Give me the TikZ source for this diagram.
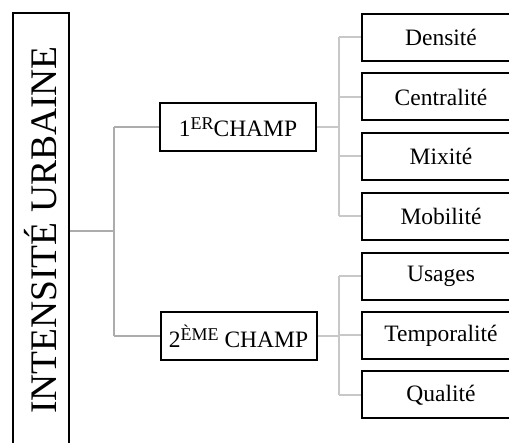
\documentclass[tikz,border=0pt]{standalone}
\usepackage{fontspec}
\setmainfont{Liberation Serif}
\definecolor{gdark}{RGB}{172,172,172}
\definecolor{glight}{RGB}{200,200,200}
\tikzset{
  x=1pt, y=-1pt,
  boxline/.style={draw=black, line width=2pt, inner sep=0pt},
  mainbox/.style={boxline, rotate=90, minimum width=434pt, minimum height=56pt,
    font=\fontsize{37.5}{40}\selectfont},
  champbox/.style={boxline, minimum width=156pt, minimum height=48pt,
    font=\fontsize{23.5}{26}\selectfont},
  leafbox/.style={boxline, anchor=west, minimum width=158pt, minimum height=47pt,
    font=\fontsize{23.5}{26}\selectfont},
  linkA/.style={draw=gdark, line width=2pt},
  linkB/.style={draw=glight, line width=2pt},
}
\newcommand{\supr}[1]{\raisebox{7pt}{\fontsize{18}{18}\selectfont #1}}
\begin{document}
\begin{tikzpicture}
\clip (0,0) rectangle (509,443);
\useasboundingbox (0,0) rectangle (509,443);
% main box
\node[mainbox] (main) at (41,230) {INTENSITÉ URBAINE};
% champ boxes
\node[champbox] (c1) at (238,127) {1\supr{ER}CHAMP};
\node[champbox] (c2) at (238.5,336) {2\supr{ÈME} CHAMP};
% leaves
\node[leafbox] (d1) at (361,37.5) {Densité};
\node[leafbox] (d2) at (361,97) {Centralité};
\node[leafbox] (d3) at (361,156.5) {Mixité};
\node[leafbox] (d4) at (361,216.5) {Mobilité};
\node[leafbox] (e1) at (361,276.5) {Usages};
\node[leafbox] (e2) at (361,335.5) {Temporalité};
\node[leafbox] (e3) at (361,395) {Qualité};
% junctions
\coordinate (j0) at (114,231.5);
\coordinate (j1) at (339,127);
\coordinate (j2) at (339,336);
% left tree
\draw[linkA] (j0 -| main.south) -- (j0);
\draw[linkA] (j0 |- c1.west) -- (j0 |- c2.west);
\draw[linkA] (j0 |- c1.west) -- (c1.west);
\draw[linkA] (j0 |- c2.west) -- (c2.west);
% right tree 1
\draw[linkB] (c1.east) -- (j1);
\draw[linkB] (j1 |- d1.west) -- (j1 |- d4.west);
\foreach \n in {d1,d2,d3,d4} \draw[linkB] (j1 |- \n.west) -- (\n.west);
% right tree 2
\draw[linkB] (c2.east) -- (j2);
\draw[linkB] (j2 |- e1.west) -- (j2 |- e3.west);
\foreach \n in {e1,e2,e3} \draw[linkB] (j2 |- \n.west) -- (\n.west);
\end{tikzpicture}
\end{document}
